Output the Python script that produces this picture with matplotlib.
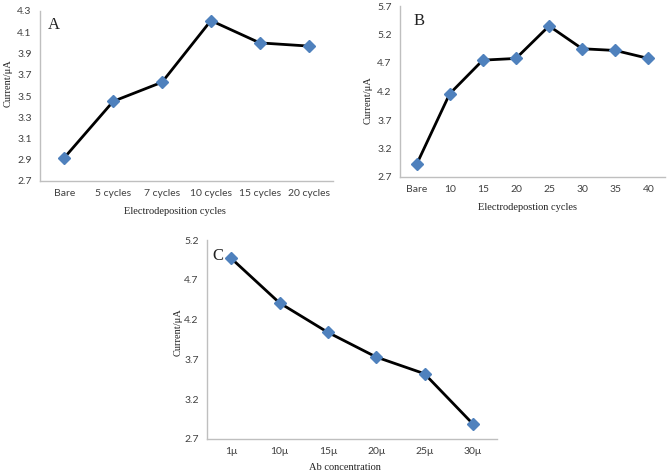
import matplotlib
matplotlib.use("Agg")
import matplotlib.pyplot as plt

# Panel A
cats_a = ["Bare", "5 cycles", "7 cycles", "10 cycles", "15 cycles", "20 cycles"]
vals_a = [2.92, 3.45, 3.63, 4.21, 4.00, 3.97]
yticks_a = [2.7, 2.9, 3.1, 3.3, 3.5, 3.7, 3.9, 4.1, 4.3]

# Panel B
cats_b = ["Bare", "10", "15", "20", "25", "30", "35", "40"]
vals_b = [2.92, 4.16, 4.75, 4.78, 5.35, 4.95, 4.92, 4.78]
yticks_b = [2.7, 3.2, 3.7, 4.2, 4.7, 5.2, 5.7]

# Panel C
cats_c = ["1\u03bc", "10\u03bc", "15\u03bc", "20\u03bc", "25\u03bc", "30\u03bc"]
vals_c = [4.97, 4.41, 4.04, 3.73, 3.52, 2.89]
yticks_c = [2.7, 3.2, 3.7, 4.2, 4.7, 5.2]

W, H = 669, 474
fig = plt.figure(figsize=(W / 100, H / 100), dpi=100)

TICKFONT = "Lato"
SERIF = "Liberation Serif"
AXCOL = "#bfbfbf"
MCOL = "#4f81bd"


def make_ax(left, top, right, bottom):
    return fig.add_axes([left / W, 1 - bottom / H, (right - left) / W, (bottom - top) / H])


def to_axes(box, px, py):
    left, top, right, bottom = box
    return ((px - left) / (right - left), (bottom - py) / (bottom - top))


def panel(box, cats, vals, yticks, xlabel, letter, letter_px, ylab_px, xlab_px):
    ax = make_ax(*box)
    x = list(range(len(cats)))
    ax.plot(x, vals, color="black", lw=2, marker="D", markersize=6.5,
            markerfacecolor=MCOL, markeredgecolor=MCOL, zorder=3)
    ax.set_xlim(-0.5, len(cats) - 0.5)
    ax.set_ylim(yticks[0], yticks[-1])
    ax.set_yticks(yticks)
    ax.set_yticklabels([f"{t:.1f}" for t in yticks])
    ax.set_xticks(x)
    ax.set_xticklabels(cats)
    for s in ["top", "right"]:
        ax.spines[s].set_visible(False)
    for s in ["left", "bottom"]:
        ax.spines[s].set_color(AXCOL)
        ax.spines[s].set_linewidth(1.0)
    ax.tick_params(length=0, labelsize=7.5, colors="#404040", pad=6)
    for lab in ax.get_xticklabels() + ax.get_yticklabels():
        lab.set_family(TICKFONT)
    ax.set_ylabel("Current/\u03bcA", family=SERIF, fontsize=7.5, color="#222222")
    ax.set_xlabel(xlabel, family=SERIF, fontsize=7.5, color="#222222")
    ax.yaxis.label.set_verticalalignment("center")
    ax.xaxis.label.set_verticalalignment("center")
    ax.yaxis.set_label_coords(*to_axes(box, *ylab_px))
    ax.xaxis.set_label_coords(*to_axes(box, *xlab_px))
    lx, ly = to_axes(box, *letter_px)
    ax.text(lx, ly, letter, transform=ax.transAxes,
            family=SERIF, fontsize=12, color="#222222", ha="center", va="center")
    return ax


panel((40, 11, 333, 181), cats_a, vals_a, yticks_a, "Electrodeposition cycles", "A",
      (54, 25), (8, 83), (175, 211))

panel((400, 6, 665, 177), cats_b, vals_b, yticks_b, "Electrodepostion cycles", "B",
      (419, 21), (368, 100), (527, 208))

panel((207, 240, 497, 439), cats_c, vals_c, yticks_c, "Ab concentration", "C",
      (218, 256), (178, 332), (345, 468))

fig.savefig("out.png", dpi=100)
